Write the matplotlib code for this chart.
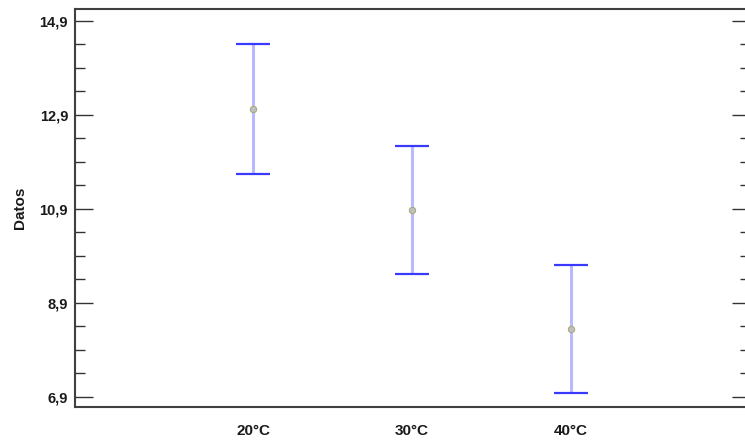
import matplotlib
matplotlib.use("Agg")
import matplotlib.pyplot as plt
from matplotlib.ticker import FixedLocator, FuncFormatter

categories = ["20°C", "30°C", "40°C"]
means = [13.02, 10.88, 8.35]
lower = [11.65, 9.51, 6.99]
upper = [14.40, 12.24, 9.71]
y_ticks = [6.9, 8.9, 10.9, 12.9, 14.9]

plt.rcParams["font.family"] = ["Liberation Sans", "DejaVu Sans"]

fig = plt.figure(figsize=(7.45, 4.42), dpi=100)
W, H = 745, 442
ax = fig.add_axes([75 / W, (H - 407) / H, (750 - 75) / W, (407 - 9) / H])

x = list(range(1, len(categories) + 1))
half_cap = 0.105

# interval stems (light) and caps (solid blue)
ax.vlines(x, lower, upper, color="#8080ff", alpha=0.55, linewidth=2.2, zorder=2)
ax.hlines(lower, [xi - half_cap for xi in x], [xi + half_cap for xi in x],
          color="#3a3aff", linewidth=1.6, zorder=3)
ax.hlines(upper, [xi - half_cap for xi in x], [xi + half_cap for xi in x],
          color="#3a3aff", linewidth=1.6, zorder=3)
ax.plot(x, means, linestyle="none", marker="o", markersize=4.5,
        markerfacecolor="#c0c0c0", markeredgecolor="#a8a880",
        markeredgewidth=0.8, zorder=4)

ax.set_xlim(-0.12, 4.125)
ax.set_ylim(6.687, 15.155)

ax.set_xticks(x)
ax.set_xticklabels(categories, fontsize=11, fontweight="bold", color="#1a1a1a")
ax.tick_params(axis="x", length=0, pad=12)

ax.yaxis.set_major_locator(FixedLocator(y_ticks))
ax.yaxis.set_minor_locator(FixedLocator(
    [v + d for v in y_ticks[:-1] for d in (0.5, 1.0, 1.5)]))
ax.yaxis.set_major_formatter(FuncFormatter(lambda v, p: f"{v:.1f}".replace(".", ",")))
ax.tick_params(axis="y", which="both", direction="in", left=True, right=True,
               color="#333333", labelsize=10.5, labelcolor="#1a1a1a")
ax.tick_params(axis="y", which="major", length=13, width=1.0, pad=5)
ax.tick_params(axis="y", which="minor", length=7, width=1.0)
for lbl in ax.get_yticklabels():
    lbl.set_fontweight("bold")

for s in ax.spines.values():
    s.set_color("#404040")
    s.set_linewidth(1.5)

ax.set_ylabel("Datos", fontsize=11, fontweight="bold", color="#1a1a1a", labelpad=9)

fig.savefig("out.png", dpi=100)
